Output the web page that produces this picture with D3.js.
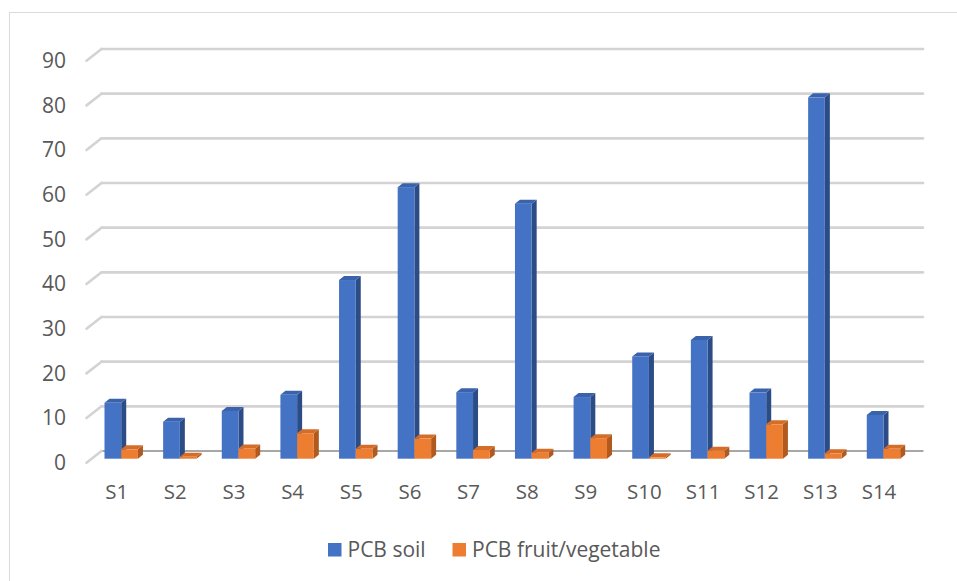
<!DOCTYPE html>
<html>
<head>
<meta charset="utf-8">
<script src="https://cdn.jsdelivr.net/npm/d3@7"></script>
<style>
  html, body { margin: 0; padding: 0; background: #ffffff; }
  svg { display: block; }
  text { font-family: "Open Sans", "Noto Sans", sans-serif; fill: #595959; }
</style>
</head>
<body>
<svg id="chart" width="957" height="581"></svg>
<script>
// Sample sites and PCB concentrations
const categories = ["S1","S2","S3","S4","S5","S6","S7","S8","S9","S10","S11","S12","S13","S14"];
const seriesNames = ["PCB soil", "PCB fruit/vegetable"];
const soilValues = [12.5, 8.3, 10.7, 14.3, 40.0, 60.8, 14.9, 57.1, 13.8, 22.9, 26.6, 14.8, 80.9, 9.8];
const fruitVegValues = [2.1, 0.45, 2.3, 5.7, 2.2, 4.5, 1.95, 1.35, 4.6, 0.3, 1.8, 7.7, 1.2, 2.2];
const yTicks = [0, 10, 20, 30, 40, 50, 60, 70, 80, 90];

const seriesColors = [
  { front: "#4472C4", side: "#2C4C86", top: "#3A63AC" },
  { front: "#ED7D31", side: "#B05A20", top: "#D56D28" }
];

const svg = d3.select("#chart");

// Outer frame (left and top edges fall inside the page)
svg.append("rect")
  .attr("x", 9.5).attr("y", 12.5)
  .attr("width", 1000).attr("height", 1000)
  .attr("fill", "none").attr("stroke", "#d9d9d9").attr("stroke-width", 1);

// 3D geometry: back wall, floor depth and bar front plane
const wallX0 = 101.5, wallX1 = 923;
const depthDx = -15, depthDy = 11.7;         // back wall -> front edge of floor
const planeDx = -9.9, planeDy = 7.7;         // back wall -> bar front faces
const barDx = 5, barDy = -4;                 // bar depth extrusion

const yWall = d3.scaleLinear().domain([0, 90]).range([451, 49]);
const yFront = d3.scaleLinear().domain([0, 90]).range([451 + planeDy, 49 + planeDy]);

const x = d3.scaleBand()
  .domain(categories)
  .range([wallX0 + planeDx, wallX1 + planeDx])
  .paddingInner(0.43)
  .paddingOuter(0.22);

const xSeries = d3.scaleBand()
  .domain(d3.range(seriesNames.length))
  .range([0, x.bandwidth()]);

// Gridlines on the back wall, with the diagonal side-wall stub
const grid = svg.append("g");
yTicks.forEach(t => {
  const yy = yWall(t);
  grid.append("line")
    .attr("x1", wallX0).attr("x2", wallX1)
    .attr("y1", yy).attr("y2", yy)
    .attr("stroke", t === 0 ? "#8a8a8a" : "#d3d3d3")
    .attr("stroke-width", t === 0 ? 1.3 : 2.6)
    .attr("stroke-linecap", "round");
  grid.append("line")
    .attr("x1", wallX0).attr("y1", yy)
    .attr("x2", wallX0 + depthDx).attr("y2", yy + depthDy)
    .attr("stroke", "#d3d3d3")
    .attr("stroke-width", 2.6)
    .attr("stroke-linecap", "round");
});

// Value axis labels
svg.append("g").selectAll("text")
  .data(yTicks)
  .join("text")
  .attr("x", 66)
  .attr("y", d => yWall(d) + depthDy)
  .attr("dy", "0.35em")
  .attr("text-anchor", "end")
  .attr("font-size", 21)
  .text(d => d);

// 3D columns
function drawBar(g, x0, w, v, c) {
  const yb = yFront(0), yt = yFront(v);
  g.append("polygon")
    .attr("points", [[x0 + w, yt], [x0 + w + barDx, yt + barDy], [x0 + w + barDx, yb + barDy], [x0 + w, yb]].join(" "))
    .attr("fill", c.side);
  g.append("polygon")
    .attr("points", [[x0, yt], [x0 + barDx, yt + barDy], [x0 + w + barDx, yt + barDy], [x0 + w, yt]].join(" "))
    .attr("fill", c.top);
  g.append("rect")
    .attr("x", x0).attr("y", yt)
    .attr("width", w).attr("height", yb - yt)
    .attr("fill", c.front);
}

const bars = svg.append("g");
const allSeries = [soilValues, fruitVegValues];
categories.forEach((cat, i) => {
  const g = bars.append("g");
  allSeries.forEach((vals, s) => {
    drawBar(g, x(cat) + xSeries(s), xSeries.bandwidth(), vals[i], seriesColors[s]);
  });
});

// Category labels along the front edge of the floor
svg.append("g").selectAll("text")
  .data(categories)
  .join("text")
  .attr("x", d => x(d) + x.bandwidth() / 2 - 4.5)
  .attr("y", 499)
  .attr("text-anchor", "middle")
  .attr("font-size", 20.5)
  .text(d => d);

// Legend
const legend = svg.append("g");
const legendX = [328, 452.5];
seriesNames.forEach((name, s) => {
  legend.append("rect")
    .attr("x", legendX[s]).attr("y", 543)
    .attr("width", 13.5).attr("height", 13.5)
    .attr("fill", seriesColors[s].front);
  legend.append("text")
    .attr("x", legendX[s] + 19.5)
    .attr("y", 557)
    .attr("font-size", 21)
    .text(name);
});
</script>
</body>
</html>
